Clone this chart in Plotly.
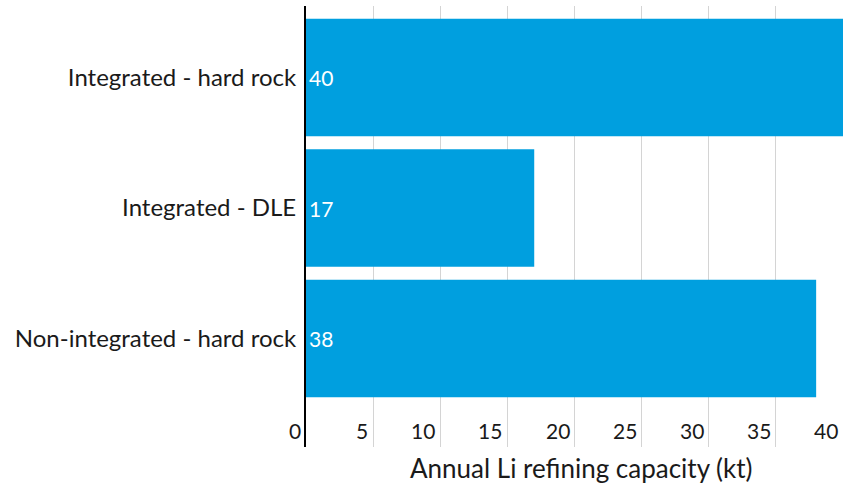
import plotly.graph_objects as go

categories = ["Integrated - hard rock", "Integrated - DLE", "Non-integrated - hard rock"]
values = [40, 17, 38]
x_ticks = [0, 5, 10, 15, 20, 25, 30, 35, 40]
x_title = "Annual Li refining capacity (kt)"

FONT = "Lato"
BAR_COLOR = "#009FDF"
TEXT_COLOR = "#1a1a1a"

fig = go.Figure(
    go.Bar(
        y=categories,
        x=values,
        orientation="h",
        marker=dict(color=BAR_COLOR, line=dict(width=0)),
        text=[str(v) for v in values],
        textposition="inside",
        insidetextanchor="start",
        textfont=dict(color="white", size=21, family=FONT),
        constraintext="none",
        hoverinfo="skip",
    )
)

fig.update_layout(
    width=843,
    height=488,
    margin=dict(l=306, r=0, t=6, b=41),
    paper_bgcolor="white",
    plot_bgcolor="white",
    bargap=0.1,
    showlegend=False,
    font=dict(family=FONT, color=TEXT_COLOR, size=21),
)

fig.update_xaxes(
    range=[0, max(x_ticks)],
    tickvals=x_ticks,
    showticklabels=False,
    showgrid=True,
    gridcolor="#d4d4d4",
    gridwidth=1,
    zeroline=False,
    showline=False,
    ticks="",
)

fig.update_yaxes(
    categoryorder="array",
    categoryarray=categories,
    range=[2.831, -0.548],
    showgrid=False,
    zeroline=False,
    showline=True,
    linecolor="black",
    linewidth=2,
    ticks="outside",
    ticklen=3,
    tickcolor="rgba(0,0,0,0)",
    tickfont=dict(size=24, family=FONT, color=TEXT_COLOR),
)

# x tick labels: right-aligned just left of each gridline, inside the plot bottom
for t in x_ticks:
    fig.add_annotation(
        text=str(t),
        xref="x",
        yref="paper",
        x=t,
        y=0,
        xanchor="right",
        yanchor="bottom",
        xshift=-3,
        yshift=2,
        showarrow=False,
        font=dict(size=21, family=FONT, color=TEXT_COLOR),
    )

fig.add_annotation(
    text=x_title,
    xref="paper",
    yref="paper",
    x=0.5,
    y=0,
    xshift=7,
    yshift=-21,
    xanchor="center",
    yanchor="middle",
    showarrow=False,
    font=dict(size=26, family=FONT, color=TEXT_COLOR),
)

fig.write_html(
    "out.html",
    config={"displayModeBar": False},
    post_script="document.body.style.margin='0';",
)
